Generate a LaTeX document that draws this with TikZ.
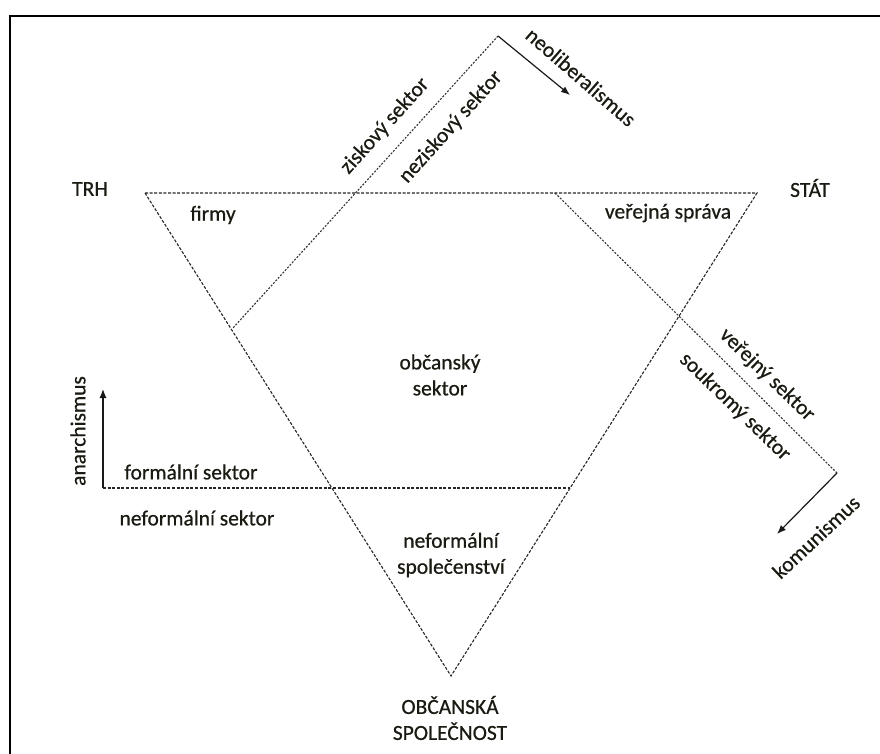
\documentclass[tikz,border=0pt]{standalone}
\usepackage{fontspec}
\setmainfont{Carlito}[FakeBold=0.6]
\usetikzlibrary{arrows.meta}
\definecolor{txt}{HTML}{1A1A12}
\tikzset{
  lbl/.style={font=\fontsize{21.5}{26}\selectfont, text=txt, inner sep=0pt, align=center},
  dline/.style={draw=black!85, line width=1.1pt, dash pattern=on 3pt off 1.6pt},
  dotline/.style={draw=black!80, line width=1.1pt, dash pattern=on 2pt off 1.5pt},
  arr/.style={draw=black!90, line width=1.2pt, -{Latex[length=9pt,width=7pt]}},
  frame/.style={draw=black, line width=2pt}
}
\begin{document}
\begin{tikzpicture}[x=1pt,y=-1pt]
\useasboundingbox (0,0) rectangle (880,754);
% frame
\coordinate (fb) at (10,754);
\coordinate (fc) at (10,16);
\coordinate (fr) at (880,16);
\draw[frame] (fb) -- (fc) -- (fr);
% triangle
\coordinate (tl) at (145,193);
\coordinate (tr) at (757,193);
\coordinate (bt) at (451,676);
\draw[dline] (tl) -- (tr) -- (bt) -- cycle;
% other lines
\coordinate (top) at (498,36);
\coordinate (lend) at (233,328);
\coordinate (rs) at (555,193);
\coordinate (rv) at (837,473);
\coordinate (fl) at (103,488);
\coordinate (fe) at (570,488);
\draw[dotline] (top) -- (lend);
\draw[dotline] (rs) -- (rv);
\draw[dline] (fl) -- (fe);
% arrows
\coordinate (neoend) at (570,95);
\coordinate (komend) at (777,534);
\coordinate (anend) at (103,389);
\draw[arr] (top) -- (neoend);
\draw[arr] (rv) -- (komend);
\draw[arr] (fl) -- (anend);
% labels
\node[lbl] (trh) at (90,189) {TRH};
\node[lbl] (stat) at (810,188) {STÁT};
\node[lbl] (firmy) at (213,215) {firmy};
\node[lbl] (vs) at (668,213) {veřejná správa};
\node[lbl] (os) at (440,375) {občanský\\sektor};
\node[lbl] (fs) at (191,472) {formální sektor};
\node[lbl] (nfs) at (197,518) {neformální sektor};
\node[lbl] (nsp) at (451,555) {neformální\\společenství};
\node[lbl] (ob) at (450,718) {OBČANSKÁ\\SPOLEČNOST};
\node[lbl, rotate=48] (zis) at (385,126) {ziskový sektor};
\node[lbl, rotate=48] (nezis) at (451,127) {neziskový sektor};
\node[lbl, rotate=-41] (neo) at (581,77) {neoliberalismus};
\node[lbl, rotate=-44] (ver) at (767,375) {veřejný sektor};
\node[lbl, rotate=-44] (souk) at (735,407) {soukromý sektor};
\node[lbl, rotate=43] (kom) at (816,537) {komunismus};
\node[lbl, rotate=90] (an) at (78,431) {anarchismus};
\end{tikzpicture}
\end{document}
